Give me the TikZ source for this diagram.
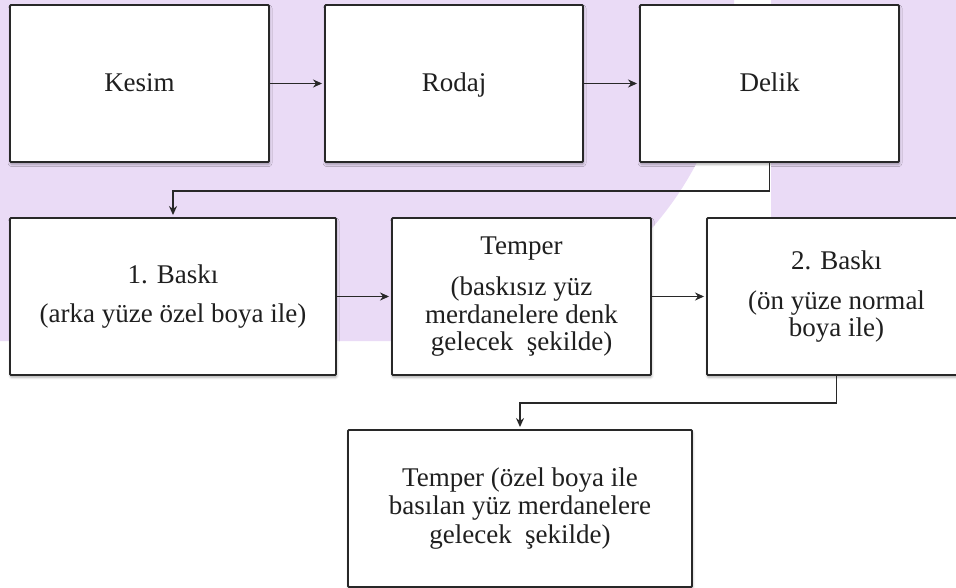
\documentclass[tikz,border=0pt]{standalone}
\usepackage{fontspec}
\setmainfont{Liberation Serif}
\usetikzlibrary{arrows.meta,shadows.blur}
\definecolor{lavender}{RGB}{234,219,246}
\definecolor{ink}{RGB}{40,40,40}
\tikzset{
  stepbox/.style={draw=ink, line width=1.9pt, fill=white, rounded corners=1pt,
    minimum height=157pt, align=center, inner sep=0pt,
    font=\fontsize{27}{27.5}\selectfont, text=black!88,
    blur shadow={shadow xshift=0.6pt, shadow yshift=-2.2pt,
      shadow blur radius=2.5pt, shadow opacity=35}},
  oneline/.style={text height=19pt, text depth=2pt},
  link/.style={draw=ink, line width=1.6pt, -{Stealth[length=9pt,width=8pt]},
    shorten >=2pt},
}
\begin{document}
\begin{tikzpicture}[x=1pt,y=1pt]
\useasboundingbox (0,0) rectangle (956,-588);
\clip (0,0) rectangle (956,-588);

% background panels
\fill[lavender] (0,0) -- (734,0) -- (734,-10)
  arc[start angle=0, end angle=-90, radius=331pt] -- (0,-341) -- cycle;
\fill[lavender] (771,0) rectangle (956,-300);

% first row
\node[stepbox, oneline, minimum width=259pt] (kesim) at (139.5,-83.5) {Kesim};
\node[stepbox, oneline, minimum width=258pt] (rodaj) at (454,-83.5) {Rodaj};
\node[stepbox, oneline, minimum width=259pt] (delik) at (769.5,-83.5) {Delik};

% second row
\node[stepbox, minimum width=326pt] (baski1) at (173,-296.5)
  {1. Baskı\\[11pt](arka yüze özel boya ile)};
\node[stepbox, minimum width=259pt] (temper1) at (521.5,-296.5)
  {Temper\\[14pt](baskısız yüz\\merdanelere denk\\gelecek~ şekilde)};
\node[stepbox, minimum width=259pt] (baski2) at (836.5,-296.5)
  {2. Baskı\\[12.5pt](ön yüze normal\\boya ile)};

% last step
\node[stepbox, minimum width=344pt, font=\fontsize{27}{28.5}\selectfont]
  (temper2) at (520,-508.5)
  {Temper (özel boya ile\\basılan yüz merdanelere\\gelecek~ şekilde)};

% connectors
\draw[link] (kesim) -- (rodaj);
\draw[link] (rodaj) -- (delik);
\draw[link] (delik.south) -- ++(0,-28) -| (baski1.north);
\draw[link] (baski1) -- (temper1);
\draw[link] (temper1) -- (baski2);
\draw[link] (baski2.south) -- ++(0,-27) -| (temper2.north);
\end{tikzpicture}
\end{document}
